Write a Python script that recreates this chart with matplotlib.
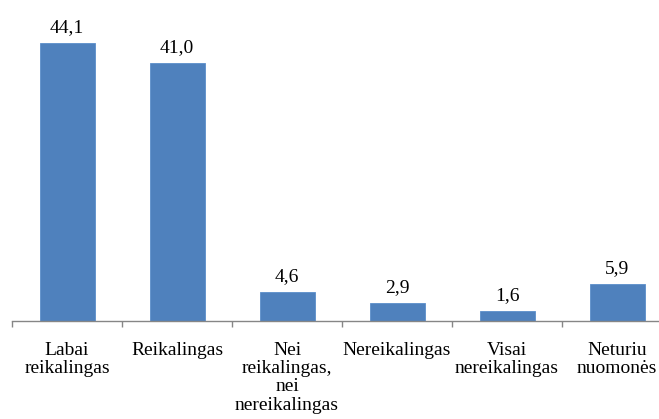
import matplotlib.pyplot as plt
from matplotlib.ticker import FixedLocator

categories = ["Labai\nreikalingas", "Reikalingas", "Nei\nreikalingas,\nnei\nnereikalingas",
              "Nereikalingas", "Visai\nnereikalingas", "Neturiu\nnuomonės"]
values = [44.1, 41.0, 4.6, 2.9, 1.6, 5.9]

plt.rcParams['font.family'] = ['Liberation Serif', 'DejaVu Serif']

fig = plt.figure(figsize=(6.59, 4.19), dpi=100)
# axes spans x 12..672 px, baseline at y=321 px
ax = fig.add_axes([12 / 659, (419 - 321) / 419, 660 / 659, 315 / 419])

x = range(len(values))
bars = ax.bar(x, values, width=0.5, color='#4F81BD', edgecolor='#5B8FCB', linewidth=0.6)

for xi, v in zip(x, values):
    ax.annotate(f"{v:.1f}".replace('.', ','), (xi, v), xytext=(0, 5),
                textcoords='offset points', ha='center', va='bottom', fontsize=14)

ax.set_xlim(-0.5, len(values) - 0.5)
ax.set_ylim(0, 50)

for s in ['top', 'right', 'left']:
    ax.spines[s].set_visible(False)
ax.spines['bottom'].set_color('#868686')
ax.spines['bottom'].set_linewidth(1.0)

ax.set_yticks([])
ax.set_xticks(list(x))
ax.set_xticklabels(categories, fontsize=14, linespacing=1.1, va='top')
ax.tick_params(axis='x', which='major', length=0, pad=15)
ax.xaxis.set_minor_locator(FixedLocator([i - 0.5 for i in range(len(values) + 1)]))
ax.tick_params(axis='x', which='minor', length=4, color='#868686', width=1.0, direction='out')

fig.savefig('out.png', dpi=100)
